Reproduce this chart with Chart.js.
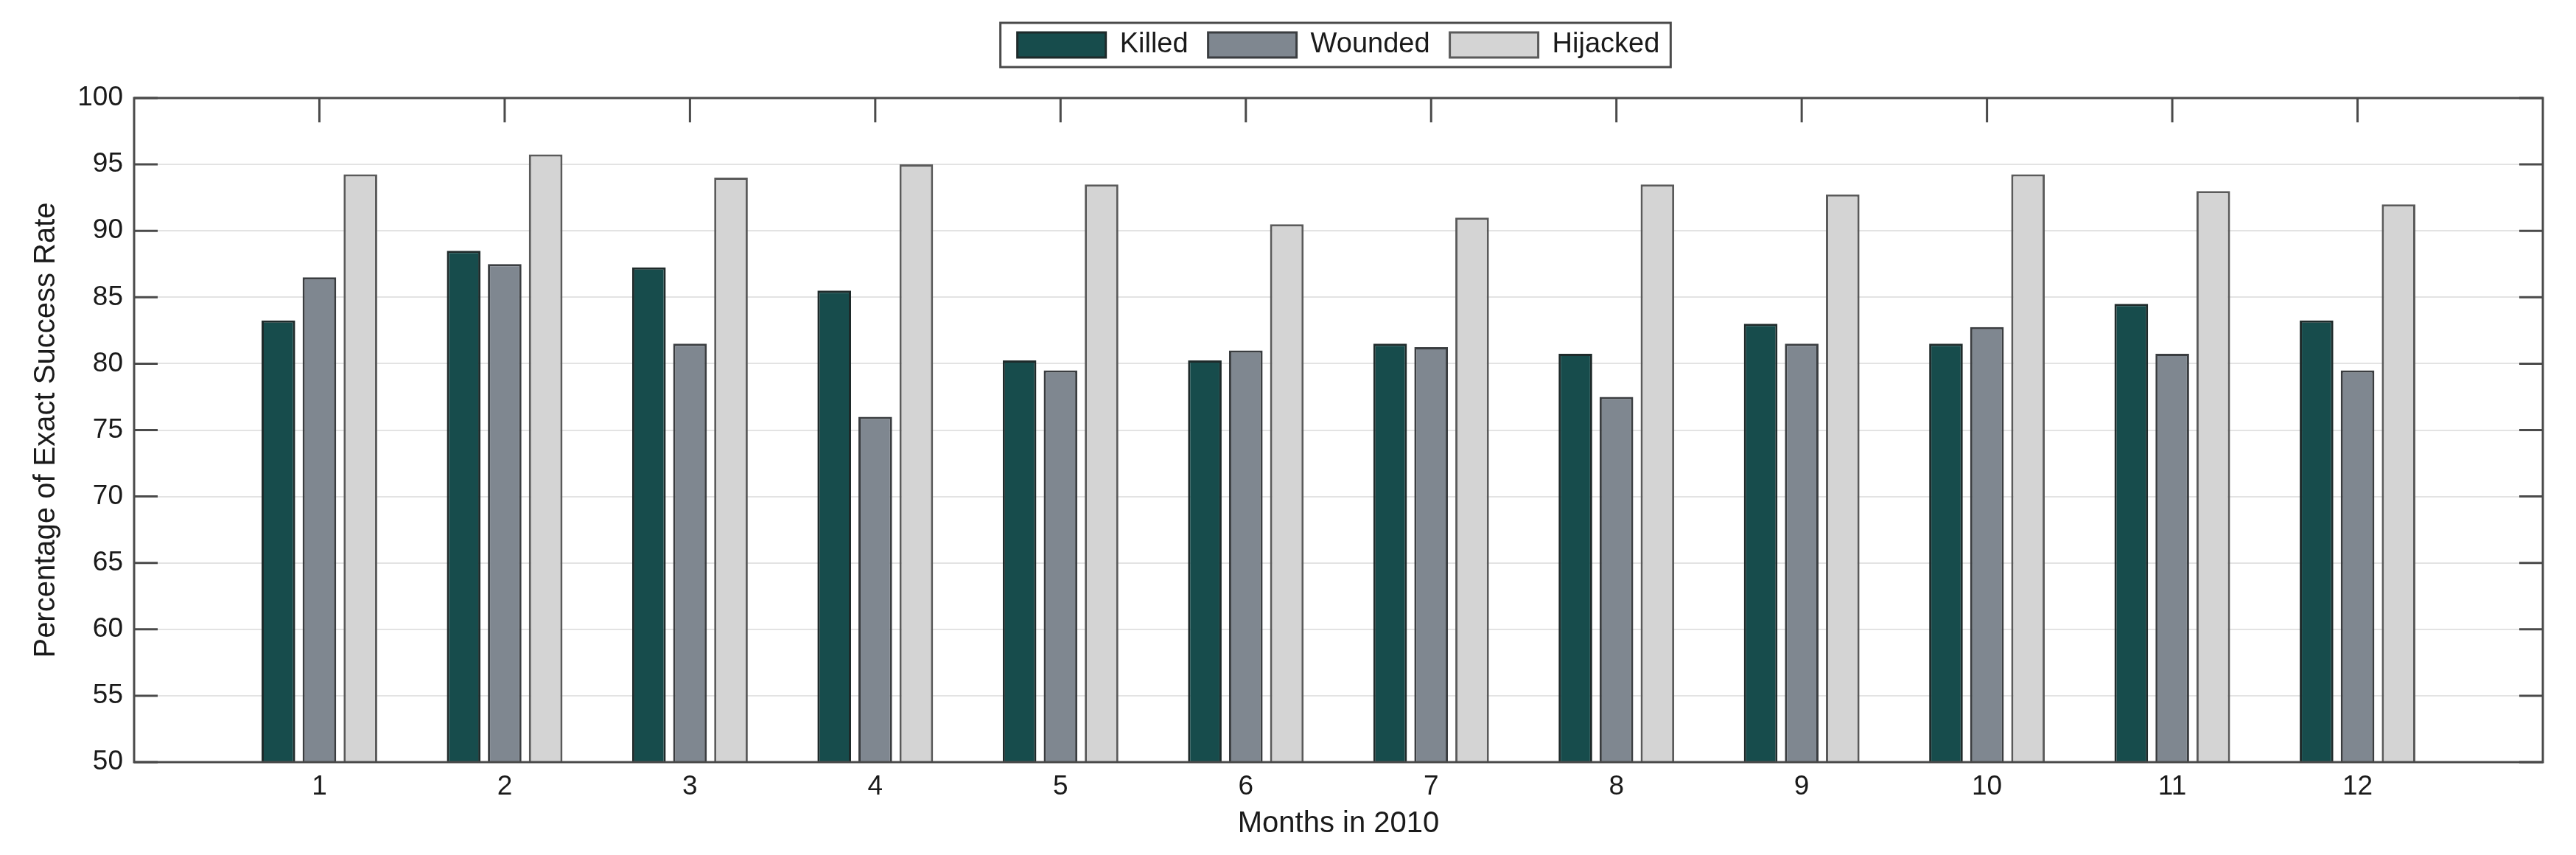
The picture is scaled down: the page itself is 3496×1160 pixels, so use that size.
<!DOCTYPE html>
<html>
<head>
<meta charset="utf-8">
<script src="https://cdn.jsdelivr.net/npm/chart.js@4.4.1/dist/chart.umd.min.js"></script>
<style>
    html, body { margin: 0; padding: 0; background: #ffffff; }
    #wrap { width: 3496px; height: 1160px; }
</style>
</head>
<body>
<div id="wrap"><canvas id="myChart" width="3496" height="1160"></canvas></div>
<script>
// months on the x axis (xlim 0..13 like the original figure)
var months = [1, 2, 3, 4, 5, 6, 7, 8, 9, 10, 11, 12];

// percentage of exact success rate
var killed   = [83.25, 88.5, 87.25, 85.5, 80.25, 80.25, 81.5, 80.75, 83.0, 81.5, 84.5, 83.25];
var wounded  = [86.5, 87.5, 81.5, 76.0, 79.5, 81.0, 81.25, 77.5, 81.5, 82.75, 80.75, 79.5];
var hijacked = [94.25, 95.75, 94.0, 95.0, 93.5, 90.5, 91.0, 93.5, 92.75, 94.25, 93.0, 92.0];

var seriesNames = ['Killed', 'Wounded', 'Hijacked'];
var yMin = 50, yMax = 100, yStep = 5;

Chart.defaults.font.family = "'Liberation Sans', Arial, Helvetica, sans-serif";
Chart.defaults.color = '#1a1a1a';

var toPoints = function (vals) {
    return months.map(function (m, i) { return { x: m, y: vals[i] }; });
};

// MATLAB style box: frame, inward ticks, legend frame
var matlabAxes = {
    id: 'matlabAxes',
    beforeDatasetsDraw: function (chart) {
        var a = chart.chartArea, ctx = chart.ctx;
        var xs = chart.scales.x, ys = chart.scales.y;
        ctx.save();
        ctx.strokeStyle = '#4a4a4a';
        ctx.lineWidth = 3;
        ctx.beginPath();
        months.forEach(function (m) {
            var px = xs.getPixelForValue(m);
            ctx.moveTo(px, a.top); ctx.lineTo(px, a.top + 33);
            ctx.moveTo(px, a.bottom); ctx.lineTo(px, a.bottom - 33);
        });
        ys.ticks.forEach(function (t) {
            var py = ys.getPixelForValue(t.value);
            ctx.moveTo(a.left, py); ctx.lineTo(a.left + 32, py);
            ctx.moveTo(a.right, py); ctx.lineTo(a.right - 32, py);
        });
        ctx.stroke();
        ctx.restore();
    },
    afterDatasetsDraw: function (chart) {
        var a = chart.chartArea, ctx = chart.ctx;
        ctx.save();
        ctx.strokeStyle = '#4a4a4a';
        ctx.lineWidth = 3;
        ctx.strokeRect(a.left, a.top, a.right - a.left, a.bottom - a.top);
        ctx.restore();
    },
    afterDraw: function (chart) {
        var hb = chart.legend.legendHitBoxes;
        if (!hb || !hb.length) return;
        var ctx = chart.ctx;
        var last = hb[hb.length - 1];
        var l = hb[0].left - 23, r = last.left + last.width + 15;
        var t = hb[0].top - 11, b = hb[0].top + hb[0].height + 11;
        ctx.save();
        ctx.strokeStyle = '#4a4a4a';
        ctx.lineWidth = 3;
        ctx.strokeRect(l, t, r - l, b - t);
        ctx.restore();
    }
};

const ctx = document.getElementById('myChart');
const myChart = new Chart(ctx, {
    type: 'bar',
    data: {
        datasets: [{
            label: seriesNames[0],
            data: toPoints(killed),
            backgroundColor: '#174c4c',
            borderColor: '#1e2a2a',
            borderWidth: 3,
            borderSkipped: false
        }, {
            label: seriesNames[1],
            data: toPoints(wounded),
            backgroundColor: '#7f8790',
            borderColor: '#3a3d40',
            borderWidth: 3,
            borderSkipped: false
        }, {
            label: seriesNames[2],
            data: toPoints(hijacked),
            backgroundColor: '#d4d4d4',
            borderColor: '#5a5a5a',
            borderWidth: 3,
            borderSkipped: false
        }]
    },
    options: {
        responsive: false,
        animation: false,
        devicePixelRatio: 1,
        categoryPercentage: 0.664,
        barPercentage: 0.82,
        layout: { padding: { top: 15, right: 45, left: 0, bottom: 0 } },
        plugins: {
            tooltip: { enabled: false },
            legend: {
                position: 'top',
                fullSize: false,
                labels: {
                    font: { size: 38 },
                    boxWidth: 120,
                    boxHeight: 34,
                    padding: 27
                }
            }
        },
        scales: {
            x: {
                type: 'linear',
                position: 'bottom',
                min: 0,
                max: 13,
                offset: false,
                grid: { display: false, drawTicks: false },
                border: { display: false },
                ticks: {
                    stepSize: 1,
                    autoSkip: false,
                    maxRotation: 0,
                    padding: 12,
                    font: { size: 37 },
                    callback: function (v) { return (v >= 1 && v <= 12) ? String(v) : ''; }
                },
                title: {
                    display: true,
                    text: 'Months in 2010',
                    font: { size: 40 },
                    padding: { top: 0, bottom: 18 }
                },
                afterFit: function (s) { s.height = 126; }
            },
            x2: {
                type: 'linear',
                position: 'top',
                min: 0,
                max: 13,
                grid: { display: false, drawTicks: false },
                border: { display: false },
                ticks: { display: false },
                afterFit: function (s) { s.height = 43; }
            },
            y: {
                min: yMin,
                max: yMax,
                grid: { color: '#e3e3e3', lineWidth: 2, drawTicks: false },
                border: { display: false },
                ticks: {
                    stepSize: yStep,
                    padding: 15,
                    font: { size: 37 }
                },
                title: {
                    display: true,
                    text: 'Percentage of Exact Success Rate',
                    font: { size: 40 },
                    padding: { top: 39, bottom: 0 }
                },
                afterFit: function (s) { s.width = 182; }
            }
        }
    },
    plugins: [matlabAxes]
});
</script>
</body>
</html>
